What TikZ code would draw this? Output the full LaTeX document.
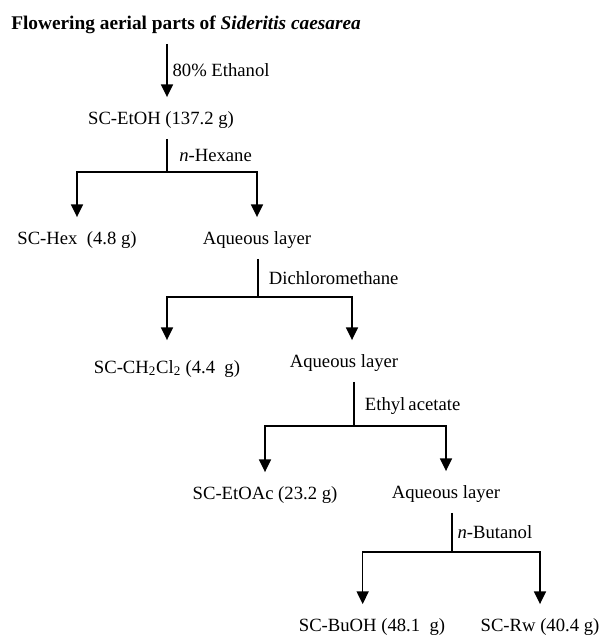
\documentclass[tikz,border=0pt]{standalone}
\usepackage{fontspec}
\setmainfont{Liberation Serif}
\usepackage{tikz}
\usetikzlibrary{positioning,calc,arrows.meta}

\begin{document}
\begin{tikzpicture}[
    x=0.75pt, y=-0.75pt,
    prod/.style={font=\fontsize{14}{16}\selectfont, inner sep=0pt, text height=20pt, text depth=11pt},
    cond/.style={font=\fontsize{14}{16}\selectfont, inner sep=0pt, anchor=west, text height=9.5pt, text depth=0pt},
    arr/.style={-{Triangle[length=9.5pt,width=9pt]}, line width=1.1pt},
    stem/.style={line width=1.1pt}
]
    \useasboundingbox (0,0) rectangle (605,636);

    % Plant material
    \node [prod, anchor=west, font=\fontsize{14.5}{17}\selectfont\bfseries] (plant) at (11,23) {Flowering aerial parts of \textit{Sideritis caesarea}};

    % Fractions
    \node [prod] (etoh) at (161,118) {SC-EtOH (137.2 g)};
    \node [prod] (hex) at (77,238) {SC-Hex\ \ (4.8 g)};
    \node [prod] (aq1) at (257,238) {Aqueous layer};
    \node [prod] (chcl) at (167,367) {SC-CH\textsubscript{2}Cl\textsubscript{2} (4.4\ \ g)};
    \node [prod] (aq2) at (344,361) {Aqueous layer};
    \node [prod] (etoac) at (265,493) {SC-EtOAc (23.2 g)};
    \node [prod] (aq3) at (446,492) {Aqueous layer};
    \node [prod] (buoh) at (372,625) {SC-BuOH (48.1\ \ g)};
    \node [prod] (rw) at (540,625) {SC-Rw (40.4 g)};

    % Junctions
    \coordinate (j1) at (167,172);
    \coordinate (j2) at (258,297);
    \coordinate (j3) at (354,426);
    \coordinate (j4) at (452,552);

    % Extraction
    \draw [arr] (plant.south -| j1) -- (etoh.north -| j1);
    \node [cond] (ethanol) at ($(plant.south -| j1)!0.5!(etoh.north -| j1)$) [xshift=4pt] {80\% Ethanol};

    % Partitions
    \draw [stem] (etoh.south -| j1) -- (j1);
    \node [cond] (hexane) at ($(etoh.south -| j1)!0.5!(j1)$) [xshift=9pt] {\textit{n}-Hexane};
    \draw [arr] (j1) -| (hex.north);
    \draw [arr] (j1) -| (aq1.north);

    \draw [stem] (aq1.south -| j2) -- (j2);
    \node [cond] (dcm) at ($(aq1.south -| j2)!0.5!(j2)$) [xshift=8pt] {Dichloromethane};
    \draw [arr] (j2) -| ([yshift=4.5pt]chcl.north);
    \draw [arr] (j2) -| ([xshift=6pt]aq2.north);

    \draw [stem] (aq2.south -| j3) -- (j3);
    \node [cond] (etac) at ($(aq2.south -| j3)!0.5!(j3)$) [xshift=8pt] {Ethyl\,acetate};
    \draw [arr] (j3) -| (etoac.north);
    \draw [arr] (j3) -| (aq3.north);

    \draw [stem] (aq3.south -| j4) -- (j4);
    \node [cond] (butanol) at ($(aq3.south -| j4)!0.5!(j4)$) [xshift=4pt] {\textit{n}-Butanol};
    \draw [arr] (j4) -| ([xshift=-7pt]buoh.north);
    \draw [arr] (j4) -| (rw.north);
\end{tikzpicture}
\end{document}
